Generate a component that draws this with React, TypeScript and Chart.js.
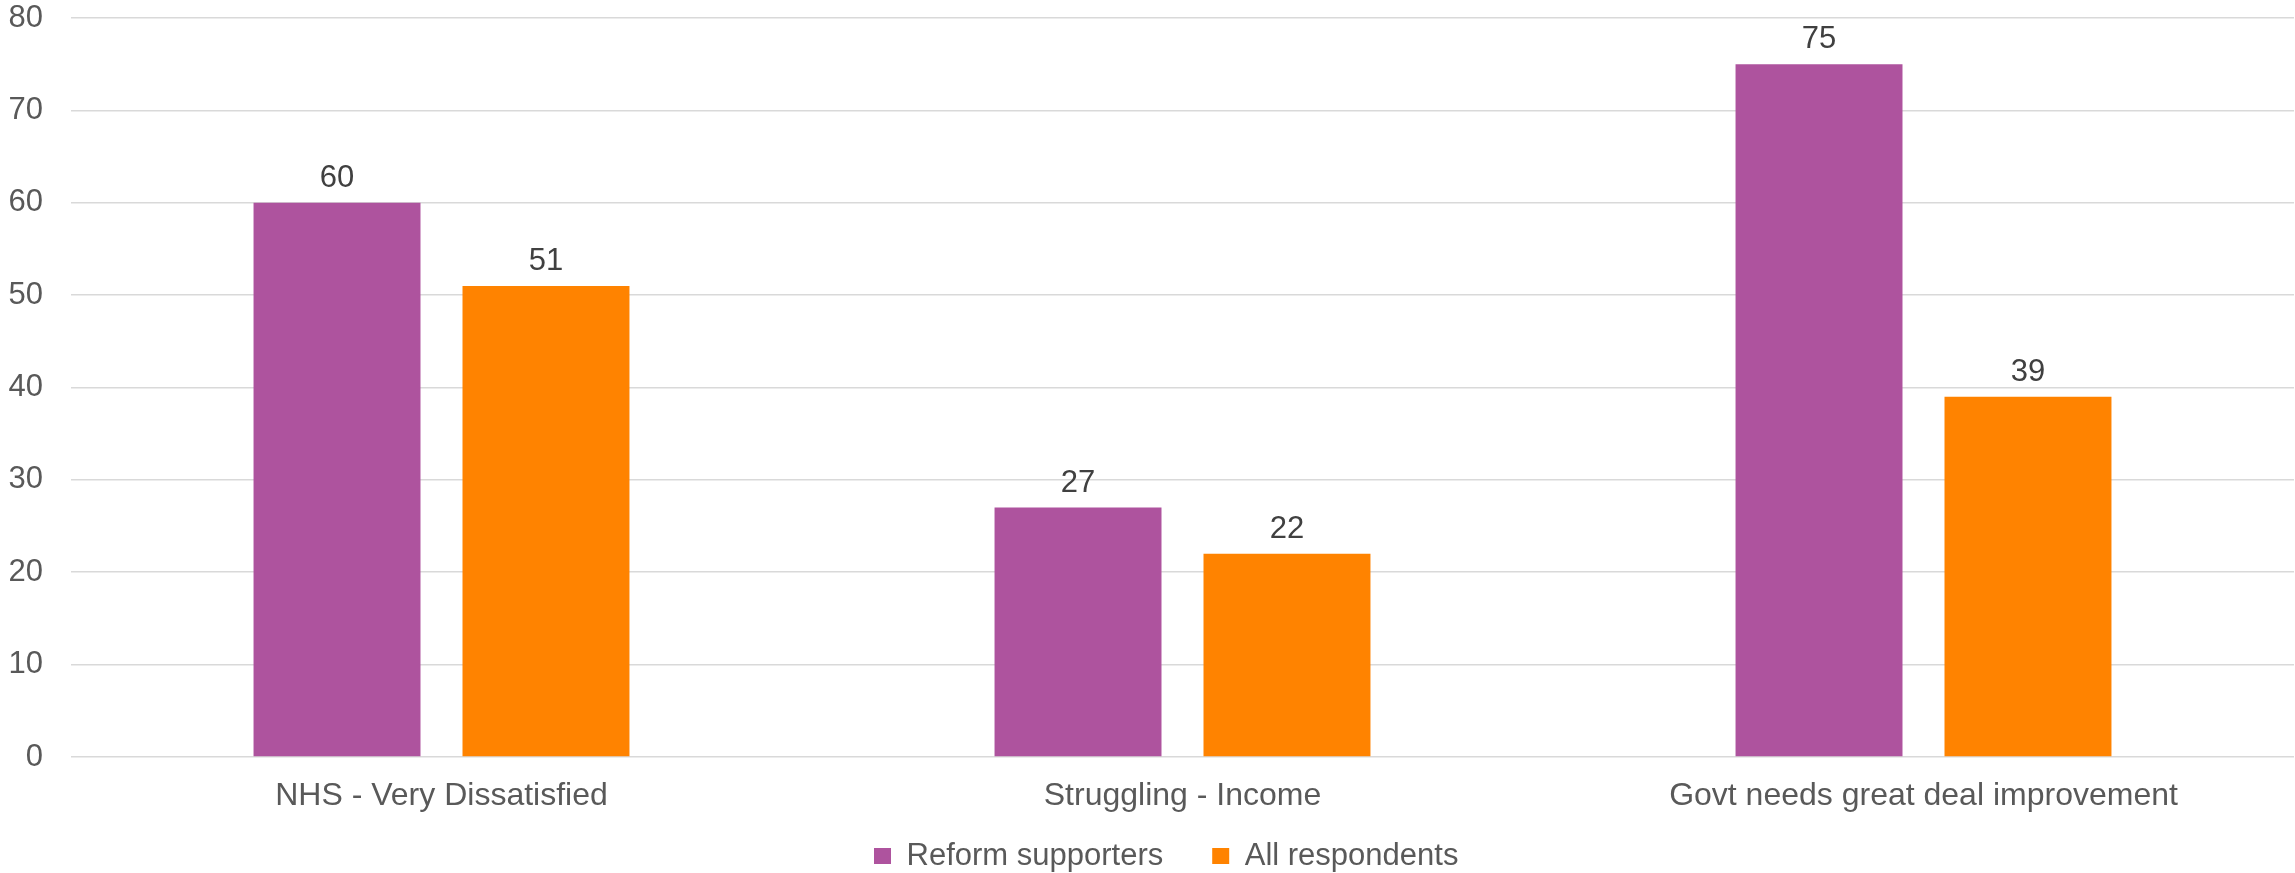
import React, { useEffect, useRef } from "react";
import { Chart, registerables } from "chart.js";

Chart.register(...registerables);

const categories = ["NHS - Very Dissatisfied", "Struggling - Income", "Govt needs great deal improvement"];
const seriesNames = ["Reform supporters", "All respondents"];
const reformValues = [60, 27, 75];
const allValues = [51, 22, 39];
const yTicks = [0, 10, 20, 30, 40, 50, 60, 70, 80];

const FONT = '"Liberation Sans", Arial, sans-serif';
const PURPLE = "#AE539E";
const ORANGE = "#FF8300";

const valueLabels = {
  id: "valueLabels",
  afterDatasetsDraw(chart: any) {
    const ctx = chart.ctx;
    ctx.save();
    ctx.font = `31px ${FONT}`;
    ctx.fillStyle = "#404040";
    ctx.textAlign = "center";
    ctx.textBaseline = "alphabetic";
    chart.data.datasets.forEach((ds: any, i: number) => {
      chart.getDatasetMeta(i).data.forEach((el: any, j: number) => {
        ctx.fillText(String(ds.data[j]), el.x, el.y - 16);
      });
    });
    ctx.restore();
  },
};

// place the legend where it sits in the reference (left of centre, near the bottom)
const legendPlace = {
  id: "legendPlace",
  afterLayout(chart: any) {
    const l = chart.legend;
    if (l) {
      l.left = 825;
      l.right = 2295;
      l.width = l.right - l.left;
      l.top = 791.5;
      l.bottom = 873;
      l.height = l.bottom - l.top;
    }
  },
};

export default function App() {
  const ref = useRef<HTMLCanvasElement | null>(null);
  useEffect(() => {
    if (!ref.current) return;
    const chart = new Chart(ref.current, {
      type: "bar",
      data: {
        labels: categories,
        datasets: [
          { label: seriesNames[0], data: reformValues, backgroundColor: PURPLE, borderWidth: 0 },
          { label: seriesNames[1], data: allValues, backgroundColor: ORANGE, borderWidth: 0 },
        ],
      },
      options: {
        responsive: false,
        animation: false,
        devicePixelRatio: 1,
        categoryPercentage: 0.564,
        barPercentage: 0.799,
        layout: { padding: { top: 18, right: 1, bottom: 3, left: 0 } },
        plugins: {
          tooltip: { enabled: false },
          legend: {
            position: "bottom",
            align: "start",
            maxHeight: 20,
            labels: {
              boxWidth: 17,
              boxHeight: 16,
              padding: 49,
              color: "#595959",
              font: { family: FONT, size: 31 },
            },
          },
        },
        scales: {
          x: {
            grid: { display: false, drawTicks: false },
            border: { display: false },
            ticks: {
              color: "#595959",
              font: { family: FONT, size: 32 },
              padding: 20,
              maxRotation: 0,
              autoSkip: false,
            },
            afterFit(s: any) {
              s.height = 93;
            },
          },
          y: {
            min: 0,
            max: 80,
            afterBuildTicks(s: any) {
              s.ticks = yTicks.map((v) => ({ value: v }));
            },
            grid: { color: "#d9d9d9", lineWidth: 1.6, drawTicks: false },
            border: { display: false },
            ticks: {
              color: "#595959",
              font: { family: FONT, size: 31 },
              padding: 28,
            },
            afterFit(s: any) {
              s.width = 71;
              s.paddingTop = 0;
              s.paddingBottom = 0;
            },
          },
        },
      },
      plugins: [valueLabels, legendPlace],
    });
    return () => chart.destroy();
  }, []);
  return (
    <div style={{ position: "fixed", left: 0, top: 0, width: 2295, height: 873, background: "#fff" }}>
      <canvas ref={ref} width={2295} height={873} />
    </div>
  );
}
